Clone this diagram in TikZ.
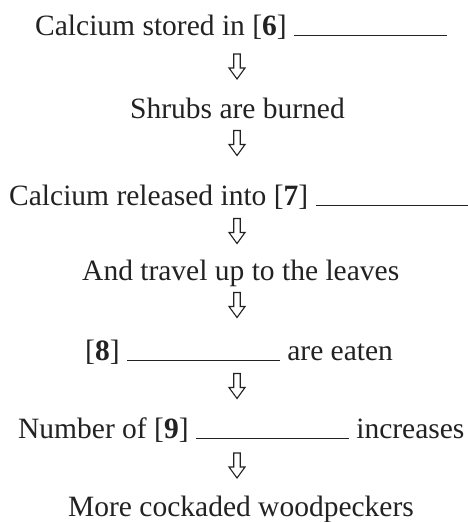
\documentclass[tikz,border=0pt]{standalone}
\usepackage{fontspec}
\setmainfont{Liberation Serif}
\definecolor{ink}{RGB}{34,34,34}
\newcommand{\blankline}[1]{\rule[-1.2pt]{#1}{1pt}}
\begin{document}
\begin{tikzpicture}[x=1pt,y=-1pt,
  txt/.style={anchor=base west,inner sep=0pt,text=ink,font=\fontsize{29.5}{34}\selectfont},
  darrow/.pic={\draw[ink,line width=1.1pt,line join=miter]
     (-3.25,-12.5) -- (3.25,-12.5) -- (3.25,1.5) -- (8,1.5) -- (0,12.5)
     -- (-8,1.5) -- (-3.25,1.5) -- cycle;}]
\useasboundingbox[fill=white] (0,0) rectangle (467,522);
\node[txt] (l1) at (35,35)  {Calcium stored in [\textbf{6}] \blankline{153pt}};
\node[txt] (l2) at (130,118) {Shrubs are burned};
\node[txt] (l3) at (9,205)  {Calcium released into [\textbf{7}] \blankline{240pt}};
\node[txt] (l4) at (82,280) {And travel up to the leaves};
\node[txt] (l5) at (85,360) {[\textbf{8}] \blankline{153pt} are eaten};
\node[txt] (l6) at (18,438) {Number of [\textbf{9}] \blankline{153pt} increases};
\node[txt] (l7) at (68,516) {More cockaded woodpeckers};
\pic at (237,66.5) {darrow};
\pic at (237,143) {darrow};
\pic at (237,231) {darrow};
\pic at (237,305) {darrow};
\pic at (237,386) {darrow};
\pic at (237,465.5) {darrow};
\end{tikzpicture}
\end{document}
